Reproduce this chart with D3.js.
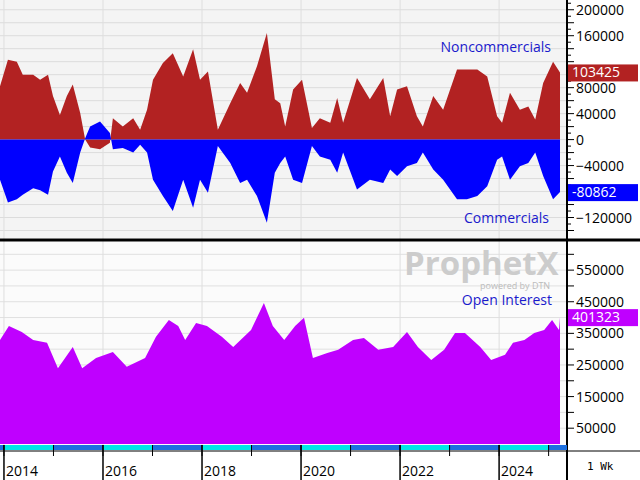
<!DOCTYPE html>
<html><head><meta charset="utf-8">
<script src="https://cdn.jsdelivr.net/npm/d3@7"></script>
<style>body{margin:0;background:#fff;font-family:"Open Sans",sans-serif;}</style>
</head><body><svg id="c" width="640" height="480"></svg>
<script>
// weekly COT data (decimal years, thousands of contracts)
var cotDates = [2013.92,2014.08,2014.26,2014.38,2014.59,2014.73,2014.89,2014.99,2015.13,2015.27,2015.39,2015.54,2015.64,2015.74,2015.94,2016.14,2016.20,2016.40,2016.61,2016.75,2016.89,2017.01,2017.21,2017.41,2017.62,2017.82,2017.96,2018.12,2018.32,2018.57,2018.77,2018.91,2019.11,2019.31,2019.47,2019.58,2019.68,2019.84,2020.02,2020.22,2020.38,2020.59,2020.73,2020.85,2021.13,2021.39,2021.66,2021.80,2021.94,2022.14,2022.34,2022.46,2022.67,2022.87,2023.15,2023.35,2023.56,2023.76,2023.96,2024.06,2024.22,2024.42,2024.59,2024.73,2024.89,2025.09,2025.23];
var noncomm = [82,123,120,100,100,92,100,67,38,67,85,41,0,-12,-15,-5,33,20,33,15,46,92,118,133,97,139,92,105,15,56,87,72,113,164,62,56,20,77,92,18,33,26,64,26,95,62,95,36,77,82,36,20,67,46,108,108,108,97,36,26,72,46,51,31,87,120,103.425];
var comm = [-62,-97,-92,-85,-75,-78,-85,-49,-26,-51,-67,-20,2,20,28,10,-15,-13,-20,-8,-20,-62,-87,-110,-62,-105,-62,-82,-10,-36,-67,-62,-87,-128,-51,-36,-26,-62,-67,-10,-26,-31,-51,-20,-77,-62,-67,-46,-56,-41,-36,-20,-46,-62,-92,-92,-87,-72,-31,-26,-62,-41,-36,-20,-56,-92,-80.862];
var oiDates = [2013.92,2014.10,2014.36,2014.59,2014.87,2015.09,2015.39,2015.58,2015.86,2016.20,2016.48,2016.85,2017.07,2017.33,2017.52,2017.66,2017.88,2018.10,2018.40,2018.63,2018.99,2019.25,2019.43,2019.66,2019.88,2020.06,2020.24,2020.53,2020.75,2021.05,2021.27,2021.56,2021.86,2022.14,2022.36,2022.63,2022.89,2023.11,2023.31,2023.62,2023.84,2024.12,2024.28,2024.51,2024.71,2024.91,2025.07,2025.21,2025.23];
var openInt = [329,373,354,329,320,240,307,240,272,291,244,272,339,392,373,329,383,373,339,307,361,446,373,329,373,399,272,288,298,329,335,298,307,354,307,266,298,351,351,307,266,282,320,329,351,361,392,361,401.323];
var topTicks = [-120000,-80000,-40000,0,40000,80000,120000,160000,200000];
var botTicks = [50000,150000,250000,350000,450000,550000];
var yearLabels = [2014,2016,2018,2020,2022,2024];

var svg = d3.select("#c");
var font = "'Open Sans',sans-serif";
var x = d3.scaleLinear().domain([2013.92, 2025.23]).range([0, 560]);
var yTop = d3.scaleLinear().domain([-150000, 215000]).range([237, 0]);
var yBot = d3.scaleLinear().domain([0, 620000]).range([444, 248]);

// pane backgrounds
svg.append("rect").attr("x",0).attr("y",0).attr("width",567).attr("height",238).attr("fill","#f4f4f4");
svg.append("rect").attr("x",0).attr("y",242).attr("width",567).attr("height",203).attr("fill","#fbfbfb");

// grid
d3.range(-140000, 220000, 20000).forEach(function(v){
  svg.append("line").attr("x1",0).attr("x2",567).attr("y1",yTop(v)).attr("y2",yTop(v)).attr("stroke","#dcdcdc");
});
d3.range(50000, 620000, 50000).forEach(function(v){
  svg.append("line").attr("x1",0).attr("x2",567).attr("y1",yBot(v)).attr("y2",yBot(v)).attr("stroke","#e0e0e0");
});
yearLabels.forEach(function(yr){
  svg.append("line").attr("x1",x(yr)).attr("x2",x(yr)).attr("y1",0).attr("y2",445).attr("stroke","#dedede");
});

// areas
function area(dates, y, y0){
  return d3.area().x(function(d,i){return x(dates[i]);}).y0(y(y0)).y1(function(d){return y(d*1000);});
}
svg.append("path").datum(noncomm).attr("d", area(cotDates, yTop, 0)).attr("fill","#b22222");
svg.append("path").datum(comm).attr("d", area(cotDates, yTop, 0)).attr("fill","#0000ff");
svg.append("path").datum(openInt).attr("d", area(oiDates, yBot, 0)).attr("fill","#bf00ff");

// watermark
svg.append("text").attr("x",404).attr("y",275).attr("font-family",font).attr("font-weight","bold").attr("font-size",33).attr("fill","#cccccc").text("ProphetX");
svg.append("text").attr("x",480).attr("y",289).attr("font-family",font).attr("font-size",9).attr("fill","#bbbbbb").text("powered by DTN");

// series labels
svg.append("text").attr("x",551).attr("y",52).attr("text-anchor","end").attr("font-family",font).attr("font-size",14).attr("fill","#1a1acc").text("Noncommercials");
svg.append("text").attr("x",549).attr("y",223).attr("text-anchor","end").attr("font-family",font).attr("font-size",14).attr("fill","#1a1acc").text("Commercials");
svg.append("text").attr("x",552).attr("y",305).attr("text-anchor","end").attr("font-family",font).attr("font-size",14).attr("fill","#1a1acc").text("Open Interest");

// last value badges positions
var badges = [
  {y: yTop(noncomm[noncomm.length-1]*1000), c: "#b22222", t: "103425"},
  {y: yTop(comm[comm.length-1]*1000), c: "#0000ff", t: "-80862"},
  {y: yBot(openInt[openInt.length-1]*1000), c: "#bf00ff", t: "401323"}
];
function hidden(py){ return badges.some(function(b){ return Math.abs(b.y - py) < 14; }); }

// right axis area
svg.append("rect").attr("x",568).attr("y",0).attr("width",72).attr("height",480).attr("fill","#fff");
var ga = svg.append("g").attr("transform","translate(568,0)").call(d3.axisRight(yTop).tickValues(topTicks.filter(function(v){return !hidden(yTop(v));})).tickSize(0).tickPadding(8).tickFormat(d3.format("d")));
var gb = svg.append("g").attr("transform","translate(568,0)").call(d3.axisRight(yBot).tickValues(botTicks.filter(function(v){return !hidden(yBot(v));})).tickSize(0).tickPadding(8).tickFormat(d3.format("d")));
[ga, gb].forEach(function(g){
  g.select(".domain").remove();
  g.selectAll("text").attr("font-family",font).attr("font-size",14).attr("fill","#000");
});
d3.range(-140000, 220000, 10000).forEach(function(v){
  var l = v % 20000 === 0 ? 6 : 3;
  svg.append("line").attr("x1",568).attr("x2",568+l).attr("y1",yTop(v)).attr("y2",yTop(v)).attr("stroke","#000");
});
d3.range(50000, 620000, 50000).forEach(function(v){
  svg.append("line").attr("x1",568).attr("x2",574).attr("y1",yBot(v)).attr("y2",yBot(v)).attr("stroke","#000");
});

badges.forEach(function(b){
  svg.append("rect").attr("x",568).attr("y",b.y-8).attr("width",70).attr("height",17).attr("fill",b.c);
  svg.append("text").attr("x",572).attr("y",b.y+5).attr("font-family",font).attr("font-size",14).attr("fill","#fff").text(b.t);
});

// frames
svg.append("line").attr("x1",567).attr("x2",567).attr("y1",0).attr("y2",480).attr("stroke","#000").attr("stroke-width",2);
svg.append("line").attr("x1",0).attr("x2",640).attr("y1",240).attr("y2",240).attr("stroke","#000").attr("stroke-width",3);
svg.append("line").attr("x1",0).attr("x2",640).attr("y1",451).attr("y2",451).attr("stroke","#000").attr("stroke-width",1);

// year strip
d3.range(2013, 2026).forEach(function(yr){
  var a = Math.max(x(yr), 0), b = Math.min(x(yr+1), 567);
  if (b <= a) return;
  svg.append("rect").attr("x",a).attr("y",445).attr("width",b-a).attr("height",5)
    .attr("fill", yr % 2 === 0 ? "#00e8e8" : "#1c6fe0");
  svg.append("line").attr("x1",x(yr)).attr("x2",x(yr)).attr("y1",445).attr("y2",456).attr("stroke","#000");
});
yearLabels.forEach(function(yr){
  svg.append("line").attr("x1",x(yr)).attr("x2",x(yr)).attr("y1",445).attr("y2",480).attr("stroke","#000").attr("stroke-width",1.5);
  svg.append("text").attr("x",x(yr)+2).attr("y",476).attr("font-family",font).attr("font-size",14).text(yr);
});
svg.append("text").attr("x",587).attr("y",470).attr("font-family","'DejaVu Sans Mono',monospace").attr("font-size",11).text("1 Wk");
</script></body></html>
